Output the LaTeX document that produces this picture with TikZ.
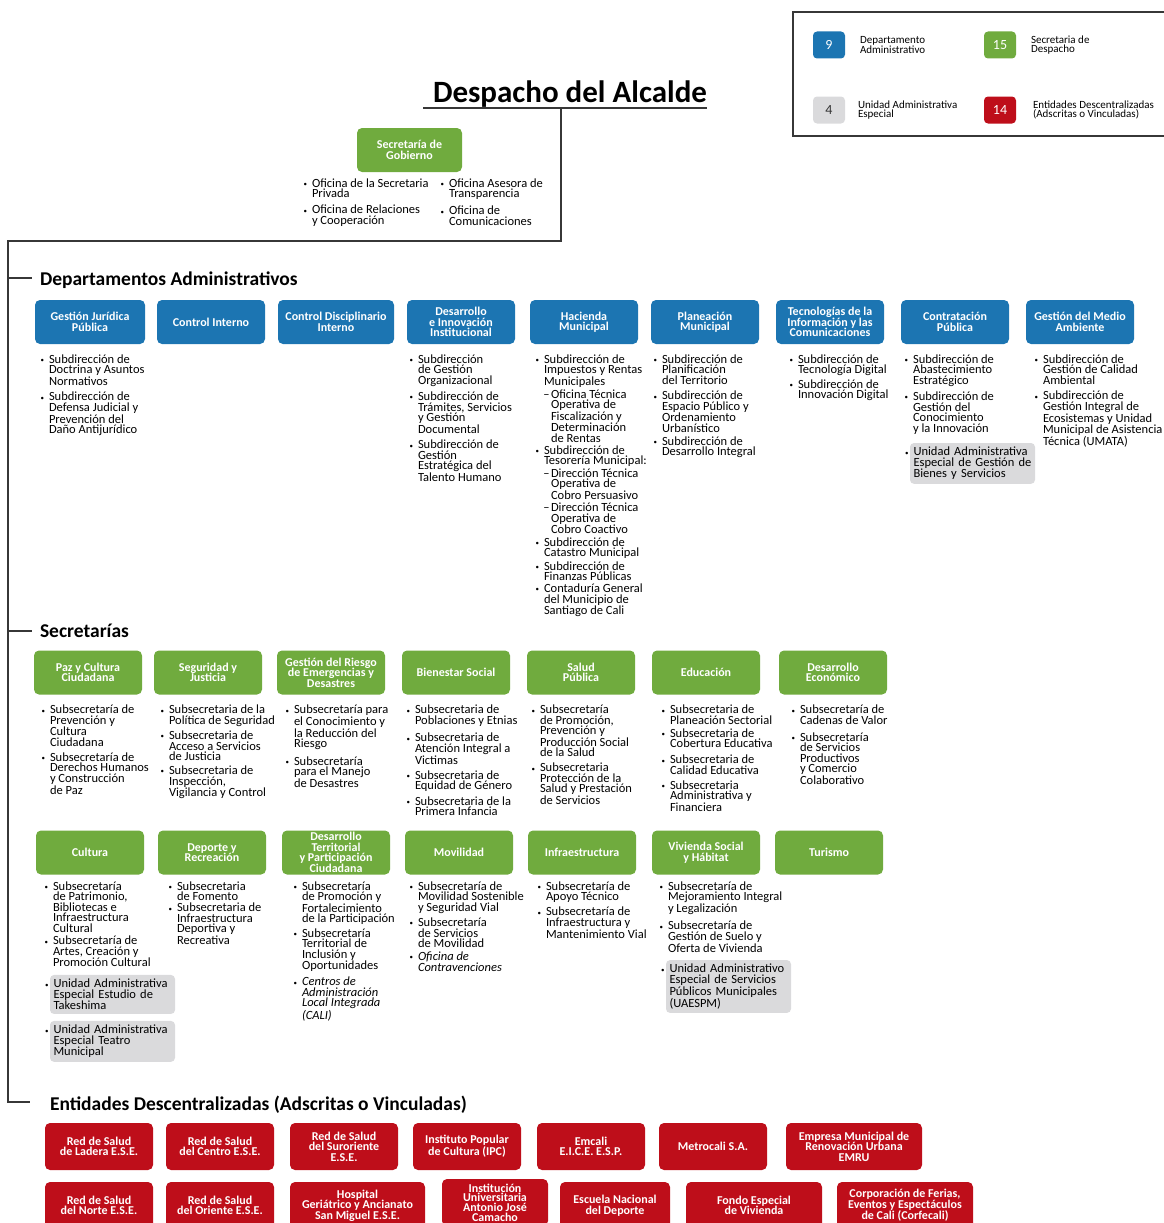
\documentclass[tikz,border=0pt]{standalone}
\usepackage{fontspec}
\setmainfont{Carlito}
\usetikzlibrary{positioning}
\definecolor{depblue}{RGB}{28,117,178}
\definecolor{secgreen}{RGB}{112,171,62}
\definecolor{entred}{RGB}{190,14,26}
\definecolor{uaegray}{RGB}{218,218,220}
\definecolor{linegray}{RGB}{55,55,55}
\newcommand\itemdot{\leavevmode\llap{\raisebox{.6pt}{\scriptsize\textbullet}\hspace{5pt}}}
\newcommand\subdash{\hspace*{7pt}\llap{\textendash\hspace{1.5pt}}}
\newcommand\subind{\hspace*{7pt}}

\begin{document}
\begin{tikzpicture}[
	x=1pt, y=-1pt,
	every node/.style={inner sep=0pt, outer sep=0pt, font=\fontsize{12.5}{10.5}\selectfont},
	unit/.style={rounded corners=5pt, minimum width=108pt, minimum height=44pt,
		text=white, align=center, font=\fontsize{12}{10.5}\selectfont\bfseries},
	sublist/.style={align=left, anchor=north west},
	uae/.style={fill=uaegray, rounded corners=4pt, align=left, text width=118pt,
		inner xsep=3.5pt, inner ysep=4pt, anchor=north west},
	line/.style={draw=linegray, line width=1.2pt},
	heading/.style={anchor=base west, font=\fontsize{19.5}{20}\selectfont\bfseries},
	key/.style={rounded corners=4pt, minimum width=32pt, minimum height=27pt,
		text=white, font=\fontsize{14}{14}\selectfont},
	keytext/.style={anchor=west, align=left, font=\fontsize{11}{9.5}\selectfont},
]
\useasboundingbox (0,0) rectangle (1164,1223);
% Input 1: fill colour.
\def\unitbox#1[#2](#3)#4{
	\node[unit, fill=#1, #2] (#3) {#4};
}
% Input 1: indent of the text from the box, input 2: drop below the box.
\def\sublist#1[#2](#3)#4{
	\node[sublist] at ([xshift=#1, yshift=-#2]#3.south west) (#3list) {#4};
}

	% legend
	\draw[line] (793,12) rectangle (1170,136);
	\node[key, fill=depblue] (keydep) at (829,45) {9};
	\node[keytext, right=15pt of keydep] (keydeptext) {Departamento\\Administrativo};
	\node[key, fill=secgreen] (keysec) at (1000,45) {15};
	\node[keytext, right=15pt of keysec] (keysectext) {Secretaria de\\Despacho};
	\node[key, fill=uaegray, text=black!80] (keyuae) at (829,110) {4};
	\node[keytext, right=13pt of keyuae] (keyuaetext) {Unidad Administrativa\\Especial};
	\node[key, fill=entred] (keyent) at (1000,110) {14};
	\node[keytext, right=17pt of keyent] (keyenttext)
		{Entidades Descentralizadas\\(Adscritas o Vinculadas)};

	% head of the chart
	\node[anchor=base west, font=\fontsize{31}{31}\selectfont\bfseries]
		(alcalde) at (433,102) {Despacho del Alcalde};
	\draw[line] ([xshift=-10pt, yshift=-6pt]alcalde.base west)
		-- ([yshift=-6pt]alcalde.base east);
	\coordinate (alcline) at ([yshift=-6pt]alcalde.base);
	\coordinate (gobcorner) at (561,241);
	\coordinate (spine) at (8,241);

	\unitbox{secgreen}[at={(409.5,150)}, minimum width=105pt](gob){Secretaría de\\Gobierno}
	\sublist{-45pt}[6.5pt](gob){\itemdot Oficina de la Secretaria\\Privada\\[5.5pt]
		\itemdot Oficina de Relaciones\\y Cooperación}
	\node[sublist] at ([xshift=92pt, yshift=-6.5pt]gob.south west) (gobrightlist)
		{\itemdot Oficina Asesora de\\Transparencia\\[5.5pt]\itemdot Oficina de\\Comunicaciones};

	\node[heading] (dephead) at (40,285) {Departamentos Administrativos};
	\node[heading] (sechead) at (40,637) {Secretarías};
	\node[heading] (enthead) at (50,1110)
		{Entidades Descentralizadas (Adscritas o Vinculadas)};
	\coordinate (depbranch) at ([yshift=7pt]dephead.base west);
	\coordinate (secbranch) at ([yshift=6pt]sechead.base west);
	\coordinate (entbranch) at ([yshift=8pt]enthead.base west);
	\draw[line] (alcline -| gobcorner) -- (gobcorner) -- (spine)
		-- (spine |- entbranch) -- ([xshift=-20pt]entbranch);
	\draw[line] (spine |- depbranch) -- ([xshift=-8pt]depbranch);
	\draw[line] (spine |- secbranch) -- ([xshift=-8pt]secbranch);

	% Departamentos Administrativos
	\unitbox{depblue}[at={(90,322)}, minimum width=110pt](GJ){Gestión Jurídica\\Pública}
	\unitbox{depblue}[right=12pt of GJ](CI){Control Interno}
	\unitbox{depblue}[right=13pt of CI, minimum width=116pt](CD){Control Disciplinario\\Interno}
	\unitbox{depblue}[right=13pt of CD](DI){Desarrollo\\e Innovación\\Institucional}
	\unitbox{depblue}[right=15pt of DI](HM){Hacienda\\Municipal}
	\unitbox{depblue}[right=13pt of HM](PM){Planeación\\Municipal}
	\unitbox{depblue}[right=17pt of PM](TI){Tecnologías de la\\Información y las\\Comunicaciones}
	\unitbox{depblue}[right=17pt of TI](CP){Contratación\\Pública}
	\unitbox{depblue}[right=17pt of CP](MA){Gestión del Medio\\Ambiente}

	\sublist{14pt}[10.5pt](GJ){\itemdot Subdirección de\\Doctrina y Asuntos\\Normativos\\[5pt]
		\itemdot Subdirección de\\Defensa Judicial y\\Prevención del\\Daño Antijurídico}
	\sublist{11pt}[10.5pt](DI){\itemdot Subdirección\\de Gestión\\Organizacional\\[4.5pt]
		\itemdot Subdirección de\\Trámites, Servicios\\y Gestión\\Documental\\[5pt]
		\itemdot Subdirección de\\Gestión\\Estratégica del\\Talento Humano}
	\sublist{14pt}[10.5pt](HM){\itemdot Subdirección de\\Impuestos y Rentas\\Municipales\\[1pt]
		\subdash Oficina Técnica\\\subind Operativa de\\\subind Fiscalización y\\
		\subind Determinación\\\subind de Rentas\\[1.5pt]
		\itemdot Subdirección de\\Tesorería Municipal:\\[1pt]
		\subdash Dirección Técnica\\\subind Operativa de\\\subind Cobro Persuasivo\\[1.5pt]
		\subdash Dirección Técnica\\\subind Operativa de\\\subind Cobro Coactivo\\[2pt]
		\itemdot Subdirección de\\Catastro Municipal\\[1.5pt]
		\itemdot Subdirección de\\Finanzas Públicas\\[1.5pt]
		\itemdot Contaduría General\\del Municipio de\\Santiago de Cali}
	\sublist{11pt}[10.5pt](PM){\itemdot Subdirección de\\Planificación\\del Territorio\\[5pt]
		\itemdot Subdirección de\\Espacio Público y\\Ordenamiento\\Urbanístico\\[2.5pt]
		\itemdot Subdirección de\\Desarrollo Integral}
	\sublist{22pt}[10.5pt](TI){\itemdot Subdirección de\\Tecnología Digital\\[2.5pt]
		\itemdot Subdirección de\\Innovación Digital}
	\sublist{12pt}[10.5pt](CP){\itemdot Subdirección de\\Abastecimiento\\Estratégico\\[4.5pt]
		\itemdot Subdirección de\\Gestión del\\Conocimiento\\y la Innovación}
	\node[uae] (CPuae) at ([xshift=-3pt, yshift=-9pt]CPlist.south west)
		{\itemdot Unidad Administrativa\\Especial de Gestión de\\Bienes y Servicios};
	\sublist{17pt}[10.5pt](MA){\itemdot Subdirección de\\Gestión de Calidad\\Ambiental\\[5pt]
		\itemdot Subdirección de\\Gestión Integral de\\Ecosistemas y Unidad\\
		Municipal de Asistencia\\Técnica (UMATA)}

	% Secretarias, first row
	\unitbox{secgreen}[at={(88,672.5)}](PC){Paz y Cultura\\Ciudadana}
	\unitbox{secgreen}[right=12pt of PC](SJ){Seguridad y\\Justicia}
	\unitbox{secgreen}[right=15pt of SJ](GR){Gestión del Riesgo\\de Emergencias y\\Desastres}
	\unitbox{secgreen}[right=17pt of GR](BS){Bienestar Social}
	\unitbox{secgreen}[right=17pt of BS](SP){Salud\\Pública}
	\unitbox{secgreen}[right=17pt of SP](ED){Educación}
	\unitbox{secgreen}[right=19pt of ED](DE){Desarrollo\\Económico}

	\sublist{16pt}[10.5pt](PC){\itemdot Subsecretaría de\\Prevención y\\Cultura\\Ciudadana\\[4.5pt]
		\itemdot Subsecretaría de\\Derechos Humanos\\y Construcción\\de Paz}
	\sublist{15pt}[10.5pt](SJ){\itemdot Subsecretaria de la\\Política de Seguridad\\[3.5pt]
		\itemdot Subsecretaria de\\Acceso a Servicios\\de Justicia\\[3.5pt]
		\itemdot Subsecretaria de\\Inspección,\\Vigilancia y Control}
	\sublist{17pt}[10.5pt](GR){\itemdot Subsecretaría para\\el Conocimiento y\\la Reducción del\\Riesgo\\[6pt]
		\itemdot Subsecretaría\\para el Manejo\\de Desastres}
	\sublist{13pt}[10.5pt](BS){\itemdot Subsecretaria de\\Poblaciones y Etnias\\[6pt]
		\itemdot Subsecretaria de\\Atención Integral a\\Victimas\\[4.5pt]
		\itemdot Subsecretaria de\\Equidad de Género\\[4pt]
		\itemdot Subsecretaria de la\\Primera Infancia}
	\sublist{13pt}[10.5pt](SP){\itemdot Subsecretaría\\de Promoción,\\Prevención y\\Producción Social\\de la Salud\\[4.5pt]
		\itemdot Subsecretaria\\Protección de la\\Salud y Prestación\\de Servicios}
	\sublist{18pt}[10.5pt](ED){\itemdot Subsecretaria de\\Planeación Sectorial\\[2.5pt]
		\itemdot Subsecretaria de\\Cobertura Educativa\\[5.5pt]
		\itemdot Subsecretaria de\\Calidad Educativa\\[4.5pt]
		\itemdot Subsecretaria\\Administrativa y\\Financiera}
	\sublist{21pt}[10.5pt](DE){\itemdot Subsecretaría de\\Cadenas de Valor\\[6.5pt]
		\itemdot Subsecretaría\\de Servicios\\Productivos\\y Comercio\\Colaborativo}

	% Secretarias, second row
	\unitbox{secgreen}[at={(90,852.5)}](CU){Cultura}
	\unitbox{secgreen}[right=14pt of CU](DR){Deporte y\\Recreación}
	\unitbox{secgreen}[right=16pt of DR](DT){Desarrollo\\Territorial\\y Participación\\Ciudadana}
	\unitbox{secgreen}[right=15pt of DT](MO){Movilidad}
	\unitbox{secgreen}[right=15pt of MO](IN){Infraestructura}
	\unitbox{secgreen}[right=16pt of IN](VS){Vivienda Social\\y Hábitat}
	\unitbox{secgreen}[right=15pt of VS](TU){Turismo}

	\sublist{17pt}[7pt](CU){\itemdot Subsecretaría\\de Patrimonio,\\Bibliotecas e\\Infraestructura\\Cultural\\[2pt]
		\itemdot Subsecretaría de\\Artes, Creación y\\Promoción Cultural}
	\node[uae] (CUuae) at ([xshift=-3pt, yshift=-8pt]CUlist.south west)
		{\itemdot Unidad Administrativa\\Especial Estudio de\\Takeshima};
	\node[uae] (CUteatro) at ([yshift=-7pt]CUuae.south west)
		{\itemdot Unidad Administrativa\\Especial Teatro\\Municipal};
	\sublist{19pt}[7pt](DR){\itemdot Subsecretaria\\de Fomento\\[0.5pt]
		\itemdot Subsecretaria de\\Infraestructura\\Deportiva y\\Recreativa}
	\sublist{20pt}[7pt](DT){\itemdot Subsecretaría\\de Promoción y\\Fortalecimiento\\de la Participación\\[2.5pt]
		\itemdot Subsecretaría\\Territorial de\\Inclusión y\\Oportunidades\\[4.5pt]
		\itemdot\itshape Centros de\\\itshape Administración\\\itshape Local Integrada\\\itshape (CALI)}
	\sublist{13pt}[7pt](MO){\itemdot Subsecretaría de\\Movilidad Sostenible\\y Seguridad Vial\\[3.5pt]
		\itemdot Subsecretaría\\de Servicios\\de Movilidad\\[2.5pt]
		\itemdot\itshape Oficina de\\\itshape Contravenciones}
	\sublist{18pt}[7pt](IN){\itemdot Subsecretaría de\\Apoyo Técnico\\[3.5pt]
		\itemdot Subsecretaría de\\Infraestructura y\\Mantenimiento Vial}
	\sublist{16pt}[7pt](VS){\itemdot Subsecretaría de\\Mejoramiento Integral\\y Legalización\\[5.5pt]
		\itemdot Subsecretaría de\\Gestión de Suelo y\\Oferta de Vivienda}
	\node[uae] (VSuae) at ([xshift=-2pt, yshift=-8pt]VSlist.south west)
		{\itemdot Unidad Administrativo\\Especial de Servicios\\Públicos Municipales\\(UAESPM)};

	% Entidades Descentralizadas
	\unitbox{entred}[at={(99,1146.5)}, minimum height=47pt](LA){Red de Salud\\de Ladera E.S.E.}
	\unitbox{entred}[right=13pt of LA, minimum height=47pt](CE){Red de Salud\\del Centro E.S.E.}
	\unitbox{entred}[right=16pt of CE, minimum height=47pt](SU){Red de Salud\\del Suroriente\\E.S.E.}
	\unitbox{entred}[right=15pt of SU, minimum height=47pt](IP){Instituto Popular\\de Cultura (IPC)}
	\unitbox{entred}[right=16pt of IP, minimum height=47pt](EM){Emcali\\E.I.C.E. E.S.P.}
	\unitbox{entred}[right=14pt of EM, minimum height=47pt](ME){Metrocali S.A.}
	\unitbox{entred}[right=19pt of ME, minimum height=47pt, minimum width=136pt](ER)
		{Empresa Municipal de\\Renovación Urbana\\EMRU}

	\unitbox{entred}[at={(99,1205.5)}, minimum height=47pt](NO){Red de Salud\\del Norte E.S.E.}
	\unitbox{entred}[right=13pt of NO, minimum height=47pt](OR){Red de Salud\\del Oriente E.S.E.}
	\unitbox{entred}[right=16pt of OR, minimum height=47pt, minimum width=135pt](HO)
		{Hospital\\Geriátrico y Ancianato\\San Miguel E.S.E.}
	\unitbox{entred}[right=17pt of HO, minimum height=47pt, minimum width=106pt,
		font=\fontsize{12}{9.6}\selectfont\bfseries, yshift=3pt](IU)
		{Institución\\Universitaria\\Antonio José\\Camacho}
	\unitbox{entred}[right=12pt of IU, minimum height=47pt, minimum width=110pt, yshift=-3pt](EN)
		{Escuela Nacional\\del Deporte}
	\unitbox{entred}[right=16pt of EN, minimum height=47pt, minimum width=136pt](FE)
		{Fondo Especial\\de Vivienda}
	\unitbox{entred}[right=15pt of FE, minimum height=47pt, minimum width=136pt](CO)
		{Corporación de Ferias,\\Eventos y Espectáculos\\de Cali (Corfecali)}
\end{tikzpicture}
\end{document}
